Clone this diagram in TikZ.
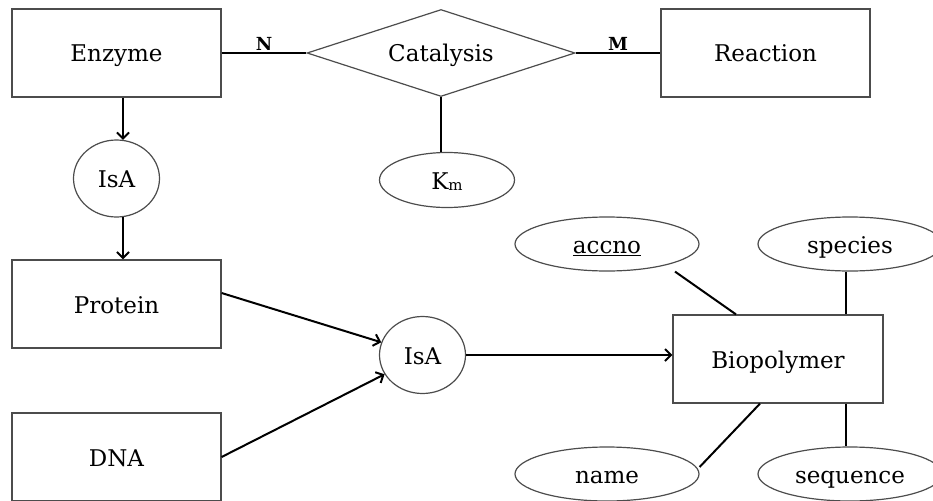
\documentclass[tikz,border=0pt]{standalone}
\usepackage{fontspec}
\setmainfont{DejaVu Serif}
\usetikzlibrary{shapes.geometric,arrows.meta}
\begin{document}
\begin{tikzpicture}[x=1pt,y=-1pt,
  every node/.style={font=\fontsize{23}{27}\selectfont, inner sep=0pt, text height=18pt, text depth=0pt},
  entity/.style={draw=black!70, line width=1.2pt, rectangle, minimum width=209pt, minimum height=88pt},
  rel/.style={draw=black!70, line width=1.2pt, diamond, aspect=3, minimum width=268pt, minimum height=87pt},
  attr/.style={draw=black!70, line width=1.2pt, ellipse, minimum width=184pt, minimum height=54pt},
  isa/.style={draw=black!70, line width=1.2pt, ellipse, minimum width=86pt, minimum height=77pt},
  conn/.style={line width=2pt, black},
  arr/.style={conn, -{Straight Barb[length=6pt,width=12pt]}},
  card/.style={font=\fontsize{18}{20}\selectfont\bfseries, above, inner sep=1.5pt, text height=, text depth=}
]
\useasboundingbox (0,0) rectangle (933,500);

\node[entity] (enzyme) at (116.5,53) {Enzyme};
\node[rel] (cat) at (441,53) {Catalysis};
\node[entity] (reaction) at (765.5,53) {Reaction};
\node[draw=black!70, line width=1.2pt, ellipse, minimum width=135pt, minimum height=55pt] (km) at (447,180) {K\raisebox{-1pt}{\fontsize{15}{17}\selectfont m}};
\node[isa] (isa1) at (116.5,178.5) {IsA};
\node[entity] (protein) at (116.5,304) {Protein};
\node[entity] (dna) at (116.5,457) {DNA};
\node[isa] (isa2) at (422.5,355) {IsA};
\node[entity, minimum width=210pt] (bio) at (778,359) {Biopolymer};
\node[attr] (accno) at (607,244) {\underline{accno}};
\node[attr] (species) at (850,244) {species};
\node[attr] (name) at (607,474) {name};
\node[attr] (sequence) at (850,474) {sequence};

\draw[conn] (enzyme.east) -- node[card] {N} (cat.west);
\draw[conn] (cat.east) -- node[card] {M} (reaction.west);
\draw[conn] (cat.south) -- (cat.south |- km.north);

\draw[arr] ([xshift=6.5pt]enzyme.south) -- ([xshift=6.5pt,yshift=-0.5pt]isa1.north);
\draw[arr] ([xshift=6.5pt,yshift=0.5pt]isa1.south) -- ([xshift=6.5pt]protein.north);

\draw[arr] ([yshift=11pt]protein.east) -- (isa2);
\draw[arr] (dna.east) -- (isa2);
\draw[arr] (isa2.east) -- (isa2.east -| bio.west);

\draw[conn] ([xshift=68pt]accno.south) -- ([xshift=-42pt]bio.north);
\draw[conn] ([xshift=-4pt]species.south) -- ([xshift=68pt]bio.north);
\draw[conn] ([yshift=7pt]name.east) -- ([xshift=-18pt]bio.south);
\draw[conn] ([xshift=68pt]bio.south) -- ([xshift=-4pt]sequence.north);
\end{tikzpicture}
\end{document}
